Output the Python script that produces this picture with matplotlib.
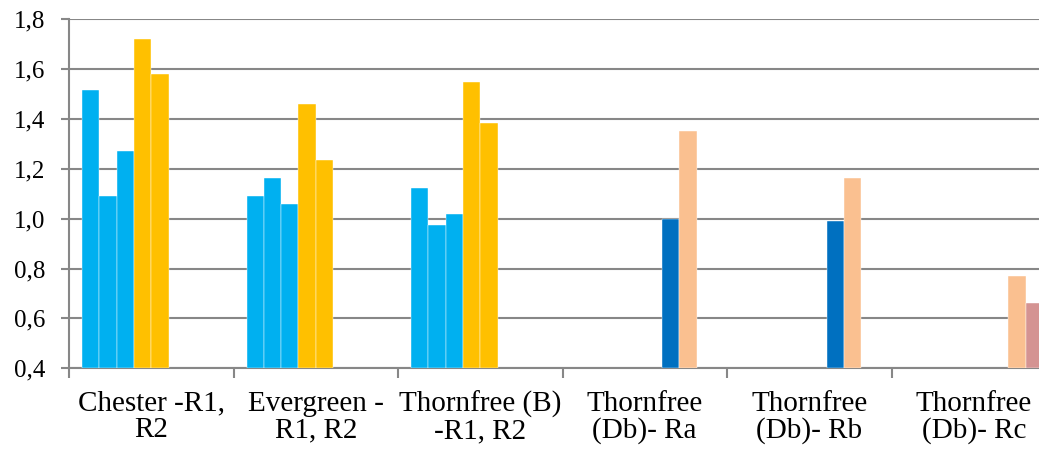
import matplotlib
matplotlib.use("Agg")
import matplotlib.pyplot as plt
import numpy as np

categories = [
    "Chester -R1,\nR2",
    "Evergreen -\nR1, R2",
    "Thornfree (B)\n-R1, R2",
    "Thornfree\n(Db)- Ra",
    "Thornfree\n(Db)- Rb",
    "Thornfree\n(Db)- Rc",
]

nan = np.nan
# one list per series, one value per category (nan = no bar)
s1 = [1.515, 1.09, 1.125, nan, nan, nan]
s2 = [1.09, 1.165, 0.975, nan, nan, nan]
s3 = [1.27, 1.06, 1.02, nan, nan, nan]
s4 = [1.72, 1.46, 1.55, nan, nan, nan]
s5 = [1.58, 1.235, 1.385, nan, nan, nan]
s6 = [nan, nan, nan, 1.0, 0.99, nan]
s7 = [nan, nan, nan, 1.35, 1.165, 0.77]
s8 = [nan, nan, nan, nan, nan, 0.66]

series = [s1, s2, s3, s4, s5, s6, s7, s8]
colors = ["#00B0F0", "#00B0F0", "#00B0F0", "#FFC000", "#FFC000",
          "#0070C0", "#FAC090", "#D49392"]

yticks = [0.4, 0.6, 0.8, 1.0, 1.2, 1.4, 1.6, 1.8]

plt.rcParams["font.family"] = ["Liberation Serif", "DejaVu Serif"]

fig = plt.figure(figsize=(10.39, 4.49), dpi=100)
# the plot area runs past the right edge of the image
ax = fig.add_axes([69 / 1039, 80.7 / 449, 987 / 1039, 349 / 449])

grid_c = "#878787"
x = np.arange(len(categories))
bar_w = 0.105
margin = (1 - bar_w * len(series)) / 2
for k, (vals, c) in enumerate(zip(series, colors)):
    pos = x - 0.5 + margin + (k + 0.5) * bar_w
    v = np.array(vals, dtype=float)
    ax.bar(pos, v - 0.4, bottom=0.4, width=bar_w, color=c,
           edgecolor="#FFFFFF", linewidth=0.3, zorder=3)

ax.set_xlim(-0.5, len(categories) - 0.5)
ax.set_ylim(0.4, 1.8)
ax.set_yticks(yticks)
ax.set_yticklabels([f"{t:.1f}".replace(".", ",") for t in yticks], fontsize=18)
ax.grid(axis="y", color=grid_c, linewidth=1.5, zorder=1)
ax.set_axisbelow(True)

# category labels centred, ticks on category boundaries
ax.set_xticks(x)
ax.set_xticklabels(categories, fontsize=21, linespacing=1.02)
ax.set_xticks(np.arange(-0.5, len(categories)), minor=True)
ax.tick_params(axis="x", which="major", length=0, pad=16)
ax.tick_params(axis="x", which="minor", length=7, width=1.5, color=grid_c)
ax.tick_params(axis="y", length=6, width=1.5, color=grid_c, pad=11)

for side in ["top", "right"]:
    ax.spines[side].set_visible(False)
for side in ["left", "bottom"]:
    ax.spines[side].set_color(grid_c)
    ax.spines[side].set_linewidth(1.5)

fig.savefig("out.png", dpi=100)
